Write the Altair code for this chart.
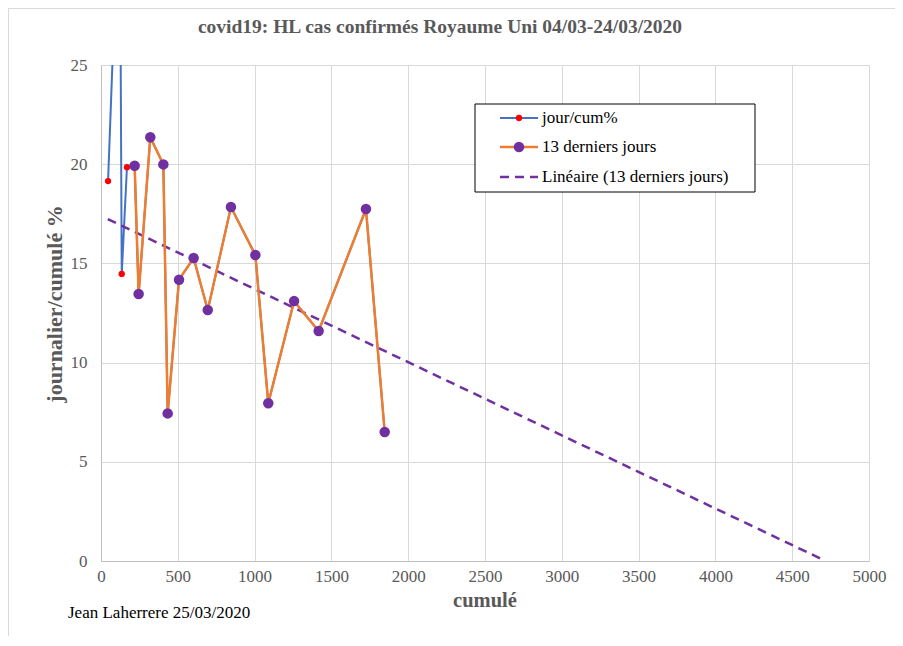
import altair as alt
import pandas as pd

# --- data ---
cum_all = [46, 122, 135, 169, 219, 245, 321, 406, 434, 508, 603, 695, 846,
           1005, 1089, 1257, 1417, 1725, 1847]
ratio_all = [19.15, 35.0, 14.47, 19.85, 19.92, 13.46, 21.36, 19.99, 7.44, 14.18,
             15.27, 12.65, 17.84, 15.42, 7.95, 13.10, 11.59, 17.74, 6.50]
cum_last = [219, 245, 321, 406, 434, 508, 603, 695, 846, 1005, 1089, 1257,
            1417, 1725, 1847]
ratio_last = [19.92, 13.46, 21.36, 19.99, 7.44, 14.18, 15.27, 12.65, 17.84,
              15.42, 7.95, 13.10, 11.59, 17.74, 6.50]
trend_extent = [44, 4681]
x_ticks = list(range(0, 5001, 500))
y_ticks = [0, 5, 10, 15, 20, 25]
legend_labels = ["jour/cum%", "13 derniers jours", "Linéaire (13 derniers jours)"]
title_text = "covid19: HL cas confirmés Royaume Uni 04/03-24/03/2020"
x_title = "cumulé"
y_title = "journalier/cumulé %"
footer_text = "Jean Laherrere 25/03/2020"

FONT = "Liberation Serif"
GREY = "#595959"
W, H = 768, 496

df_all = pd.DataFrame({"cum": cum_all, "ratio": ratio_all})
df_last = pd.DataFrame({"cum": cum_last, "ratio": ratio_last})
one = pd.DataFrame({"a": [0]})

xs = alt.Scale(domain=[0, 5000], nice=False)
ys = alt.Scale(domain=[0, 25], nice=False)

x_enc = alt.X("cum:Q", scale=xs, title="",
              axis=alt.Axis(values=x_ticks, format="d"))
y_enc = alt.Y("ratio:Q", scale=ys, title="",
              axis=alt.Axis(values=y_ticks, format="d"))

blue_line = alt.Chart(df_all).mark_line(color="#4472C4", strokeWidth=2, clip=True).encode(x=x_enc, y=y_enc)
red_pts = alt.Chart(df_all).mark_circle(color="#FF0000", size=40, opacity=1, clip=True).encode(x=x_enc, y=y_enc)

trend = alt.Chart(df_last).transform_regression(
    "cum", "ratio", extent=trend_extent
).mark_line(color="#7030A0", strokeWidth=2.5, strokeDash=[9, 6], clip=True).encode(x=x_enc, y=y_enc)

orange_line = alt.Chart(df_last).mark_line(color="#ED7D31", strokeWidth=2.5).encode(x=x_enc, y=y_enc)
purple_pts = alt.Chart(df_last).mark_circle(color="#7030A0", size=110, opacity=1).encode(x=x_enc, y=y_enc)

# --- manual legend (Excel style) ---
lg_box = alt.Chart(one).mark_rect(fill="white", stroke="black", strokeWidth=1).encode(
    x=alt.value(374), x2=alt.value(654), y=alt.value(39), y2=alt.value(127))
rows = [53, 82, 112]
lg_l1 = alt.Chart(one).mark_rule(color="#4472C4", strokeWidth=2).encode(
    x=alt.value(399), x2=alt.value(437), y=alt.value(rows[0]))
lg_p1 = alt.Chart(one).mark_circle(color="#FF0000", size=40, opacity=1).encode(
    x=alt.value(418), y=alt.value(rows[0]))
lg_l2 = alt.Chart(one).mark_rule(color="#ED7D31", strokeWidth=2.5).encode(
    x=alt.value(399), x2=alt.value(437), y=alt.value(rows[1]))
lg_p2 = alt.Chart(one).mark_circle(color="#7030A0", size=110, opacity=1).encode(
    x=alt.value(418), y=alt.value(rows[1]))
lg_l3 = alt.Chart(one).mark_rule(color="#7030A0", strokeWidth=2.5, strokeDash=[9, 6]).encode(
    x=alt.value(399), x2=alt.value(437), y=alt.value(rows[2]))
lg_texts = [
    alt.Chart(one).mark_text(align="left", baseline="middle", font=FONT, fontSize=17,
                             color="black").encode(
        x=alt.value(441), y=alt.value(r), text=alt.value(t))
    for r, t in zip(rows, legend_labels)
]

title_mark = alt.Chart(one).mark_text(align="center", baseline="alphabetic", font=FONT,
                                      fontSize=19.5, fontWeight="bold", color=GREY).encode(
    x=alt.value(339), y=alt.value(-32), text=alt.value(title_text))

x_title_mark = alt.Chart(one).mark_text(align="center", baseline="alphabetic", font=FONT,
                                        fontSize=20.5, fontWeight="bold", color=GREY).encode(
    x=alt.value(384), y=alt.value(542), text=alt.value(x_title))

y_title_mark = alt.Chart(one).mark_text(align="center", baseline="middle", font=FONT,
                                        fontSize=22, fontWeight="bold", color=GREY,
                                        angle=270).encode(
    x=alt.value(-46), y=alt.value(239), text=alt.value(y_title))

footer = alt.Chart(one).mark_text(align="left", baseline="alphabetic", font=FONT,
                                  fontSize=17, color="black").encode(
    x=alt.value(-33), y=alt.value(553), text=alt.value(footer_text))

frame_left = alt.Chart(one).mark_rule(color="#d9d9d9", strokeWidth=1).encode(
    x=alt.value(-92.5), y=alt.value(-56.5), y2=alt.value(H + 75))
frame_top = alt.Chart(one).mark_rule(color="#d9d9d9", strokeWidth=1).encode(
    x=alt.value(-92.5), x2=alt.value(W + 26), y=alt.value(-56.5))

chart = alt.layer(
    frame_left, frame_top,
    blue_line, red_pts, trend, orange_line, purple_pts,
    lg_box, lg_l1, lg_p1, lg_l2, lg_p2, lg_l3, *lg_texts,
    title_mark, x_title_mark, y_title_mark, footer,
).properties(
    width=W, height=H,
    autosize=alt.AutoSizeParams(type="none"),
    padding={"left": 93, "top": 57, "right": 26, "bottom": 75},
).configure_view(stroke=None).configure_axis(
    labelFont=FONT, labelFontSize=17, labelColor=GREY,
    gridColor="#d9d9d9", gridWidth=1, domainColor="#bfbfbf", domainWidth=1,
    ticks=False,
).configure_axisX(labelPadding=7, labelFlush=False
).configure_axisY(labelPadding=14)

chart.save("out.html", embed_options={"renderer": "svg", "actions": False})
